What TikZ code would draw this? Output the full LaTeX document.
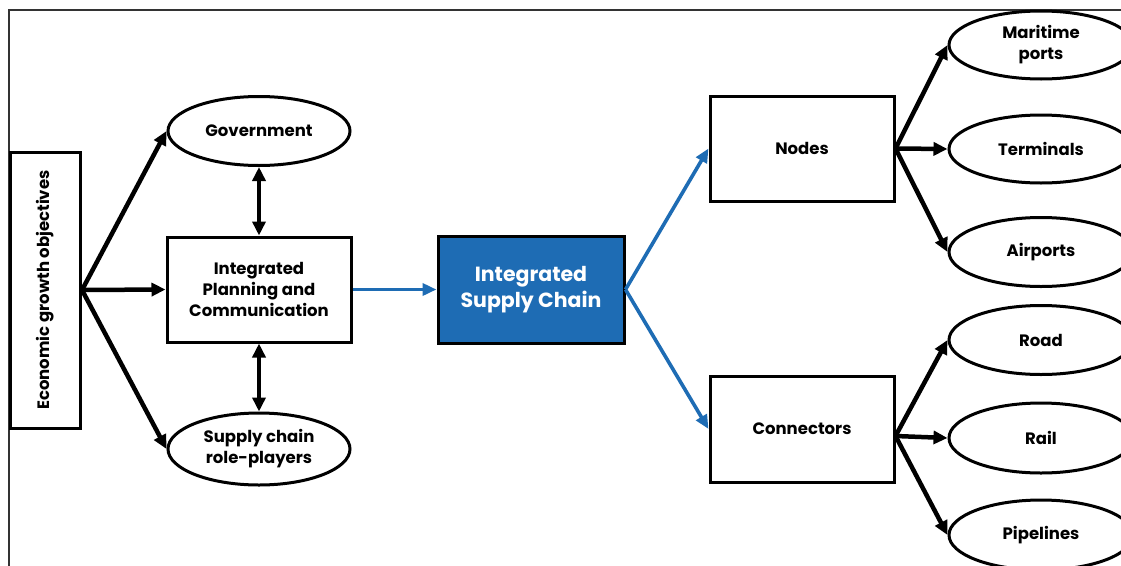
\documentclass[tikz,border=0pt]{standalone}
\usepackage{fontspec}
\setmainfont{Poppins}
\usetikzlibrary{shapes.geometric,arrows.meta}
\definecolor{scblue}{RGB}{30,108,180}
\tikzset{
  box/.style={draw=black,line width=3pt,fill=white,inner sep=0pt,align=center,font=\fontsize{16.5}{21}\selectfont\bfseries},
  oval/.style={ellipse,draw=black,line width=3pt,fill=white,inner sep=0pt,align=center,minimum width=184pt,font=\fontsize{16.5}{21}\selectfont\bfseries},
  blk/.style={line width=4.5pt,-{Triangle[length=14pt,width=13pt]}},
  dbl/.style={line width=4.5pt,{Triangle[length=14pt,width=13pt]}-{Triangle[length=14pt,width=13pt]}},
  blu/.style={draw=scblue,line width=3.6pt,-{Triangle[length=14pt,width=12pt]}}
}
\begin{document}
\begin{tikzpicture}[x=1pt,y=-1pt]
\clip (0,0) rectangle (1121,565);
\fill[white] (0,0) rectangle (1121,565);
\draw[line width=1.6pt,black!80] (9,600) -- (9,10) -- (1200,10);
% left column
\node[box,minimum width=70pt,minimum height=276pt] (econ) at (45.5,290) {};
\node[rotate=90,font=\fontsize{16.5}{21}\selectfont\bfseries] (econt) at (econ.center) {Economic growth objectives};
\node[oval,minimum width=182pt,minimum height=69pt] (gov) at (259,131) {Government};
\node[box,minimum width=184pt,minimum height=105pt] (ipc) at (259,289.5) {Integrated\\Planning and\\Communication};
\node[oval,minimum width=182pt,minimum height=72pt] (scr) at (259,449) {Supply chain\\role-players};
% centre
\node[box,fill=scblue,text=white,minimum width=186pt,minimum height=107pt,font=\fontsize{20.5}{26}\selectfont\bfseries] (isc) at (531,289.5) {Integrated\\Supply Chain};
% right
\node[box,minimum width=184pt,minimum height=105pt] (nodes) at (802,148.5) {Nodes};
\node[box,minimum width=184pt,minimum height=106pt] (conn) at (802,429) {Connectors};
\node[oval,minimum height=68pt] (mar) at (1041,45) {Maritime\\ports};
\node[oval,minimum height=68pt] (term) at (1041,149) {Terminals};
\node[oval,minimum height=69pt] (air) at (1041,252) {Airports};
\node[oval,minimum height=69pt] (road) at (1041,340) {Road};
\node[oval,minimum height=70pt] (rail) at (1041,438) {Rail};
\node[oval,minimum height=70pt] (pipe) at (1041,535) {Pipelines};
\coordinate (cf) at ([yshift=-7pt]conn.east);
% connectors
\draw[blk] (econ.east) -- (gov.west);
\draw[blk] (econ.east) -- (ipc.west);
\draw[blk] (econ.east) -- (scr.west);
\draw[dbl] (gov.south) -- (ipc.north);
\draw[dbl] (ipc.south) -- (scr.north);
\draw[blu] (ipc.east) -- (isc.west);
\draw[blu] (isc.east) -- (nodes.west);
\draw[blu] (isc.east) -- (conn.west);
\draw[blk] (nodes.east) -- (mar.west);
\draw[blk] (nodes.east) -- (term.west);
\draw[blk] (nodes.east) -- (air.west);
\draw[blk] (cf) -- (road.west);
\draw[blk] (cf) -- (rail.west);
\draw[blk] (cf) -- (pipe.west);
\end{tikzpicture}
\end{document}
